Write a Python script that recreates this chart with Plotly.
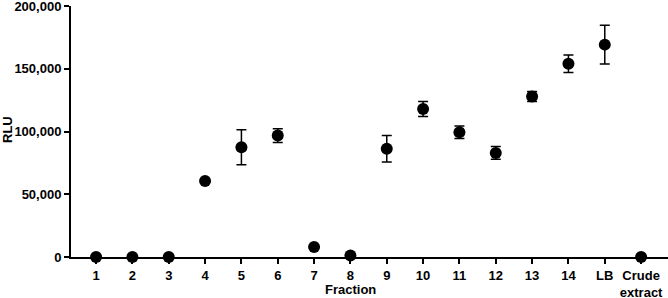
import plotly.graph_objects as go

categories = ["1", "2", "3", "4", "5", "6", "7", "8", "9", "10", "11", "12", "13", "14", "LB", "Crude<br>extract"]
rlu = [0, 0, 0, 60500, 87500, 96800, 8000, 1200, 86300, 118000, 99500, 83000, 128000, 154000, 169300, 0]
rlu_err = [0, 0, 0, 0, 14000, 5500, 0, 0, 10500, 6000, 5000, 5000, 4000, 7000, 15500, 0]
y_ticks = [0, 50000, 100000, 150000, 200000]

font_family = "Liberation Sans, Arial, sans-serif"
bold = dict(size=13, weight="bold", family=font_family, color="black")

fig = go.Figure()
fig.add_trace(go.Scatter(
    x=categories, y=rlu, mode="markers",
    marker=dict(color="black", size=12),
    error_y=dict(type="data", array=rlu_err, visible=True, color="black", thickness=1.5, width=5),
    cliponaxis=False, showlegend=False,
))

fig.update_layout(
    width=668, height=298,
    margin=dict(l=71, r=0, t=6, b=41),
    paper_bgcolor="white", plot_bgcolor="white",
    font=dict(family=font_family, color="black", size=12),
    xaxis=dict(
        type="category", range=[-0.69, 15.74], automargin=False,
        showline=True, linecolor="black", linewidth=2,
        ticks="outside", ticklen=5, tickwidth=1.5, tickcolor="black",
        tickfont=bold, showgrid=False, zeroline=False, ticklabeloverflow="allow",
    ),
    yaxis=dict(
        range=[0, 200100], tickvals=y_ticks, tickformat=",", automargin=False,
        showline=True, linecolor="black", linewidth=2,
        ticks="outside", ticklen=5, tickwidth=1.5, tickcolor="black",
        tickfont=bold, showgrid=False, zeroline=False, ticklabeloverflow="allow",
    ),
    annotations=[
        dict(text="Fraction", xref="paper", yref="paper", x=(350 - 71) / 597, y=-(290 - 257) / 251,
             xanchor="center", yanchor="middle", showarrow=False, font=bold),
        dict(text="RLU", xref="paper", yref="paper", x=-(71 - 7) / 597, y=(257 - 130) / 251,
             xanchor="center", yanchor="middle", textangle=-90, showarrow=False, font=bold),
    ],
)

fig.write_html("out.html", config={"displayModeBar": False},
               post_script="document.body.style.margin='0';")
